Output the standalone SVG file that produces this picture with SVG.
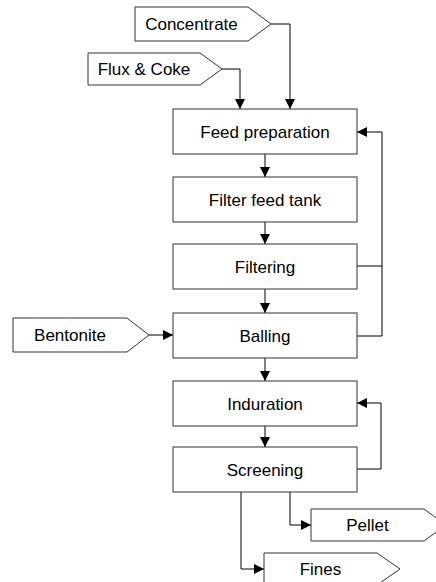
<svg xmlns="http://www.w3.org/2000/svg" width="436" height="582" viewBox="0 0 436 582">
<style>
.box{fill:#fff;stroke:#333;stroke-width:1}
.t{font-family:"Liberation Sans",Arial,sans-serif;font-size:17px;fill:#000;text-anchor:middle}
.c{fill:none;stroke:#000;stroke-width:1}
</style>
<defs>
<marker id="a" viewBox="0 0 10 10" refX="10" refY="5" markerWidth="10" markerHeight="10" markerUnits="userSpaceOnUse" orient="auto">
<path d="M0,0 L10,5 L0,10 z" fill="#000"/>
</marker>
</defs>
<rect width="436" height="582" fill="#fff"/>
<g id="connectors">
<path class="c" d="M271,24 H290 V109" marker-end="url(#a)"/>
<path class="c" d="M222,69 H240 V109" marker-end="url(#a)"/>
<path class="c" d="M265,154 V177" marker-end="url(#a)"/>
<path class="c" d="M265,222 V244" marker-end="url(#a)"/>
<path class="c" d="M265,289 V313" marker-end="url(#a)"/>
<path class="c" d="M149,335 H173" marker-end="url(#a)"/>
<path class="c" d="M357,266 H382"/>
<path class="c" d="M357,336 H382 V132 H357" marker-end="url(#a)"/>
<path class="c" d="M265,358 V381" marker-end="url(#a)"/>
<path class="c" d="M265,426 V447" marker-end="url(#a)"/>
<path class="c" d="M357,469 H381 V403 H357" marker-end="url(#a)"/>
<path class="c" d="M290,492 V525 H311" marker-end="url(#a)"/>
<path class="c" d="M241,492 V569 H264" marker-end="url(#a)"/>
</g>
<g id="concentrate"><path class="box" d="M135,7 H248 L271,24 L248,41 H135 Z"/><text class="t" x="191.5" y="30">Concentrate</text></g>
<g id="flux"><path class="box" d="M88,53 H200 L222,69 L200,85 H88 Z"/><text class="t" x="144" y="75">Flux &amp; Coke</text></g>
<g id="feedprep"><rect class="box" x="173" y="109" width="184" height="45"/><text class="t" x="265" y="138">Feed preparation</text></g>
<g id="filterfeed"><rect class="box" x="173" y="177" width="184" height="45"/><text class="t" x="265" y="206">Filter feed tank</text></g>
<g id="filtering"><rect class="box" x="173" y="244" width="184" height="45"/><text class="t" x="265" y="273">Filtering</text></g>
<g id="bentonite"><path class="box" d="M13,318 H127 L149,335 L127,352 H13 Z"/><text class="t" x="70" y="341">Bentonite</text></g>
<g id="balling"><rect class="box" x="173" y="313" width="184" height="45"/><text class="t" x="265" y="342">Balling</text></g>
<g id="induration"><rect class="box" x="173" y="381" width="184" height="45"/><text class="t" x="265" y="410">Induration</text></g>
<g id="screening"><rect class="box" x="173" y="447" width="184" height="45"/><text class="t" x="265" y="476">Screening</text></g>
<g id="pellet"><path class="box" d="M311,509 H424 L446,525 L424,541 H311 Z"/><text class="t" x="367.5" y="531">Pellet</text></g>
<g id="fines"><path class="box" d="M264,553 H377 L400,569 L377,585 H264 Z"/><text class="t" x="320.5" y="575">Fines</text></g>
</svg>
